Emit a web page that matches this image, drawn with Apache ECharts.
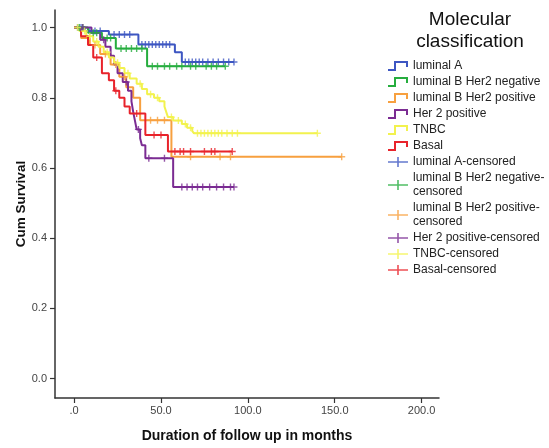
<!DOCTYPE html>
<html>
<head>
<meta charset="utf-8">
<script src="https://cdn.jsdelivr.net/npm/echarts@6/dist/echarts.min.js"></script>
<style>
  html, body { margin: 0; padding: 0; background: #fff; }
  #km { width: 549px; height: 448px; }
</style>
</head>
<body>
<div id="km"></div>
<script>
// Kaplan-Meier steps: [months, cum survival]
var groups = ['luminal A', 'luminal B Her2 negative', 'luminal B Her2 positive', 'Her 2 positive', 'TNBC', 'Basal'];
var colors = ['#3d56c2', '#26ad3e', '#f7a03f', '#7b2c92', '#f2f24e', '#e8232b'];

var lumA = [[0, 1], [6, 0.99], [20, 0.98], [37, 0.952], [58, 0.93], [62, 0.902], [92, 0.902]];
var lumBneg = [[0, 1], [8, 0.985], [16, 0.97], [24, 0.94], [42, 0.89], [87, 0.89]];
var lumBpos = [[0, 1], [4, 0.97], [9, 0.95], [15, 0.925], [21, 0.895], [26, 0.86], [30, 0.83], [34, 0.8], [38, 0.736], [56, 0.632], [154, 0.632]];
var her2 = [[0, 1], [10, 0.985], [15, 0.965], [18, 0.945], [21, 0.92], [23, 0.895], [25, 0.87], [28, 0.845], [31, 0.82], [33, 0.79],
            [34, 0.76], [35, 0.735], [36, 0.71], [38, 0.685], [39, 0.665], [41, 0.628], [57, 0.546], [92, 0.546]];
var tnbc = [[0, 1], [3, 0.99], [7, 0.975], [11, 0.96], [14, 0.945], [17, 0.93], [20, 0.915], [23, 0.9], [26, 0.885], [29, 0.87],
            [32, 0.855], [36, 0.84], [39, 0.825], [42, 0.81], [46, 0.8], [49, 0.79], [52, 0.775], [53, 0.76], [54, 0.745],
            [57, 0.735], [62, 0.725], [65, 0.715], [68, 0.705], [69, 0.699], [140, 0.699]];
var basal = [[0, 1], [4, 0.975], [8, 0.95], [11, 0.915], [16, 0.87], [20, 0.85], [23, 0.82], [26, 0.8], [29, 0.775], [32, 0.755],
             [41, 0.694], [54, 0.647], [91, 0.647]];

// censored times (months)
var lumAcens = [2, 4, 9, 12, 15, 23, 26, 29, 32, 39, 41, 43, 45, 47, 49, 51, 53, 55, 64, 66, 68, 70, 72, 74, 77, 80, 83, 86, 89, 92];
var lumBnegCens = [3, 5, 11, 13, 19, 21, 27, 30, 33, 36, 39, 45, 48, 52, 55, 59, 62, 67, 70, 76, 79, 82, 87];
var lumBposCens = [12, 18, 24, 29, 44, 48, 52, 67, 84, 90, 154];
var her2Cens = [5, 17, 30, 37, 43, 52, 62, 65, 68, 71, 74, 78, 82, 86, 90, 92];
var tnbcCens = [2, 6, 9, 13, 19, 25, 31, 38, 44, 48, 56, 60, 64, 67, 71, 73, 75, 77, 79, 81, 83, 85, 88, 91, 94, 140];
var basalCens = [13, 24, 36, 46, 50, 58, 61, 63, 67, 75, 79, 81, 91];

var xTicks = [0, 50, 100, 150, 200];
var yTicks = [0, 0.2, 0.4, 0.6, 0.8, 1.0];

var steps = [lumA, lumBneg, lumBpos, her2, tnbc, basal];
var cens = [lumAcens, lumBnegCens, lumBposCens, her2Cens, tnbcCens, basalCens];

function survAt(s, t) {
  var v = s[0][1];
  for (var i = 0; i < s.length; i++) { if (s[i][0] <= t) v = s[i][1]; }
  return v;
}

var stepIcon = 'path://M0,8 L6,8 L6,0 L20,0 L20,6 L18,6 L18,2 L8,2 L8,10 L0,10 Z';
var plusIcon = 'path://M0,4.2 L20,4.2 L20,5.8 L0,5.8 Z M9.2,0 L10.8,0 L10.8,10 L9.2,10 Z';
var plusMark = 'path://M0,3.2 L8,3.2 L8,4.8 L0,4.8 Z M3.2,0 L4.8,0 L4.8,8 L3.2,8 Z';

var series = [];
var legendData = [];
groups.forEach(function (g, i) {
  series.push({
    name: g, type: 'line', step: 'end', showSymbol: false, symbol: 'none',
    data: steps[i], color: colors[i],
    lineStyle: { width: 2, color: colors[i] }, z: 3, silent: true
  });
  legendData.push({ name: g, icon: stepIcon });
});
groups.forEach(function (g, i) {
  series.push({
    name: g + '-censored', type: 'scatter', symbol: plusMark, symbolSize: 7,
    data: cens[i].map(function (t) { return [t, survAt(steps[i], t)]; }),
    itemStyle: { color: colors[i] }, color: colors[i], z: 4, silent: true
  });
  legendData.push({ name: g + '-censored', icon: plusIcon });
});

var chart = echarts.init(document.getElementById('km'));
chart.setOption({
  backgroundColor: '#fff',
  animation: false,
  textStyle: { fontFamily: 'Liberation Sans' },
  grid: { left: 55, right: 110, top: 10, bottom: 45.5 },
  xAxis: {
    type: 'value', min: -11, max: 210,
    name: 'Duration of follow up in months', nameLocation: 'middle', nameGap: 31, nameMoveOverlap: false,
    nameTextStyle: { fontSize: 14, fontWeight: 'bold', color: '#111', fontFamily: 'Liberation Sans' },
    axisLine: { onZero: false, lineStyle: { color: '#333', width: 1.5 } },
    axisTick: { customValues: xTicks, length: 5, lineStyle: { color: '#333', width: 1.2 } },
    axisLabel: {
      customValues: xTicks, color: '#444', fontSize: 11, margin: 7,
      formatter: function (v) { return v === 0 ? '.0' : v.toFixed(1); }
    },
    splitLine: { show: false }
  },
  yAxis: {
    type: 'value', min: -0.055, max: 1.05,
    name: 'Cum Survival', nameLocation: 'middle', nameGap: 27, nameRotate: 90, nameMoveOverlap: false,
    nameTextStyle: { fontSize: 13.5, fontWeight: 'bold', color: '#111', fontFamily: 'Liberation Sans' },
    axisLine: { onZero: false, lineStyle: { color: '#333', width: 1.5 } },
    axisTick: { customValues: yTicks, length: 5, lineStyle: { color: '#333', width: 1.2 } },
    axisLabel: {
      customValues: yTicks, color: '#444', fontSize: 11, margin: 8,
      formatter: function (v) { return v.toFixed(1); }
    },
    splitLine: { show: false }
  },
  legend: {
    orient: 'vertical', left: 388, top: 59, padding: 0,
    itemWidth: 20, itemHeight: 10, itemGap: 2, selectedMode: false,
    data: legendData,
    textStyle: { fontSize: 12, color: '#222', lineHeight: 14, fontFamily: 'Liberation Sans' },
    formatter: function (n) {
      if (n === 'luminal B Her2 negative-censored') return 'luminal B Her2 negative-\ncensored';
      if (n === 'luminal B Her2 positive-censored') return 'luminal B Her2 positive-\ncensored';
      return n;
    }
  },
  graphic: [
    { type: 'text', style: { x: 470, y: 20, text: 'Molecular', textAlign: 'center', textVerticalAlign: 'middle',
      font: '19px "Liberation Sans"', fill: '#111' } },
    { type: 'text', style: { x: 470, y: 42, text: 'classification', textAlign: 'center', textVerticalAlign: 'middle',
      font: '19px "Liberation Sans"', fill: '#111' } }
  ],
  series: series
});
</script>
</body>
</html>
